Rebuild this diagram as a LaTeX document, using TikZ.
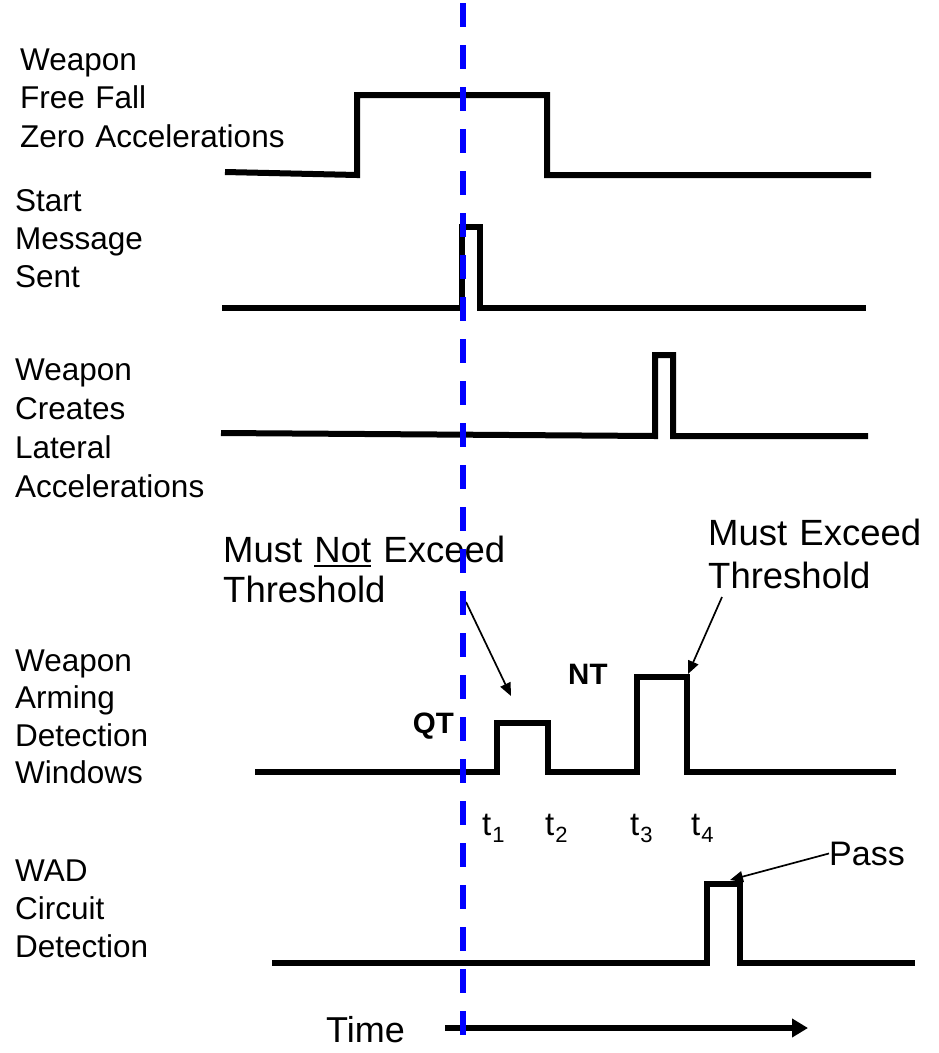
\documentclass[tikz,border=0pt]{standalone}
\usepackage{fontspec}
\setmainfont{Liberation Sans}
\usetikzlibrary{arrows.meta}
\definecolor{vblue}{RGB}{0,0,255}
\newcommand{\ulword}[1]{\setbox0\hbox{#1}\rlap{\rule[-5pt]{\wd0}{2.5pt}}\box0\relax}
\newcommand{\tsub}[1]{t\kern1pt\raisebox{-7pt}{\fontsize{22}{22}\selectfont #1}}
\begin{document}
\begin{tikzpicture}[x=1pt,y=-1pt,
  sig/.style={line width=6pt, line join=miter, miter limit=10},
  lab/.style={anchor=base west, inner sep=0pt, align=left, text width=300pt, font=\fontsize{31.5}{38.5}\selectfont},
  callout/.style={anchor=base west, inner sep=0pt, align=left, text width=320pt, font=\fontsize{36.5}{40}\selectfont},
  thinarrow/.style={line width=1.7pt, -{Triangle[length=13pt,width=11pt]}},
  boldlabel/.style={inner sep=0pt, font=\bfseries\fontsize{29.5}{29.5}\selectfont},
  tlab/.style={anchor=base west, inner sep=0pt, font=\fontsize{33}{33}\selectfont},
  plain/.style={anchor=base west, inner sep=0pt},
]
\useasboundingbox (0,0) rectangle (938,1053);

% left labels
\node[lab] (lFree) at (20,70) {Weapon\\Free Fall\\Zero Accelerations};
\node[lab, font=\fontsize{31.5}{38}\selectfont] (lStart) at (15,211) {Start\\Message\\Sent};
\node[lab, font=\fontsize{31.5}{39}\selectfont] (lLat) at (15,380) {Weapon\\Creates\\Lateral\\Accelerations};
\node[lab, font=\fontsize{31.5}{37.5}\selectfont] (lWin) at (15,671) {Weapon\\Arming\\Detection\\Windows};
\node[lab, font=\fontsize{31.5}{38}\selectfont] (lWad) at (15,881) {WAD\\Circuit\\Detection};

% signals
\draw[sig] (225,172) -- (357,175) -- (357,95) -- (547,95) -- (547,175) -- (871,175);
\draw[sig] (222,308) -- (462,308) -- (462,227) -- (480,227) -- (480,308) -- (866,308);
\draw[sig] (221,433) -- (655,436) -- (655,355) -- (673,355) -- (673,436) -- (868,436);
\draw[sig] (255,772) -- (497,772) -- (497,723) -- (548,723) -- (548,772) -- (637,772)
           -- (637,677) -- (687,677) -- (687,772) -- (896,772);
\draw[sig] (272,963) -- (707,963) -- (707,884) -- (740,884) -- (740,963) -- (915,963);

% callouts
\node[callout] (mnt) at (223,562) {Must \ulword{Not} Exceed\\Threshold};
\node[callout, font=\fontsize{36.5}{43}\selectfont] (me) at (708,545) {Must Exceed\\Threshold};
\node[boldlabel, anchor=base east] (qt) at (454,733) {QT};
\node[boldlabel, anchor=base west] (nt) at (568,684) {NT};

% time labels
\node[tlab] (t1) at (482,835) {\tsub{1}};
\node[tlab] (t2) at (545,835) {\tsub{2}};
\node[tlab] (t3) at (630,835) {\tsub{3}};
\node[tlab] (t4) at (691,835) {\tsub{4}};

\node[plain, font=\fontsize{34}{34}\selectfont] (pass) at (829,865) {Pass};
\node[plain, font=\fontsize{36}{36}\selectfont] (time) at (326,1042) {Time};

% arrows
\coordinate (mntTail) at (466,602);
\coordinate (qtTip) at (511,696);
\draw[thinarrow] (mntTail) -- (qtTip);
\coordinate (meTail) at (722,597);
\coordinate (ntTip) at (688,674);
\draw[thinarrow] (meTail) -- (ntTip);
\coordinate (wadTip) at (730,880);
\draw[thinarrow] (pass.west) -- (wadTip);

\coordinate (tStart) at (445,1028);
\coordinate (tEnd) at (808,1028);
\draw[line width=6pt, -{Triangle[length=16pt,width=18pt]}] (tStart) -- (tEnd);

% blue dashed marker
\coordinate (bTop) at (463,3);
\coordinate (bBot) at (463,1053);
\draw[vblue, line width=6pt, dash pattern=on 24pt off 18pt] (bTop) -- (bBot);
\end{tikzpicture}
\end{document}
